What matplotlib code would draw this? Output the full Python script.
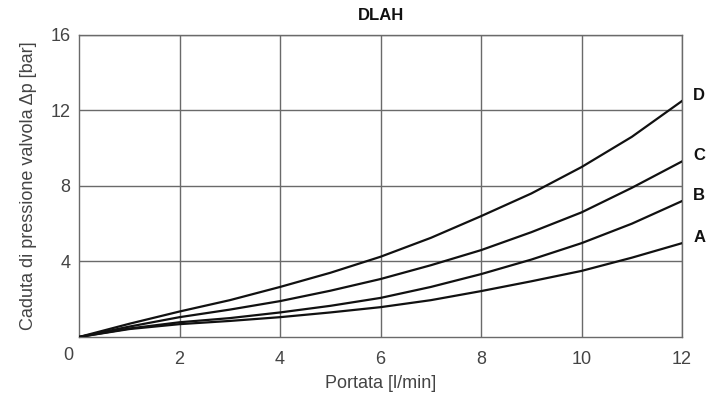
import numpy as np
import matplotlib.pyplot as plt

plt.rcParams['font.family'] = ['Liberation Sans', 'DejaVu Sans']

# flow rate [l/min]
portata = [0, 1, 2, 3, 4, 5, 6, 7, 8, 9, 10, 11, 12]

# pressure drop [bar] per curve
curve_D = [0, 0.70, 1.35, 1.95, 2.65, 3.40, 4.25, 5.25, 6.40, 7.60, 9.00, 10.60, 12.50]
curve_C = [0, 0.55, 1.05, 1.45, 1.90, 2.45, 3.07, 3.80, 4.60, 5.55, 6.60, 7.90, 9.30]
curve_B = [0, 0.45, 0.78, 1.00, 1.30, 1.65, 2.07, 2.65, 3.33, 4.10, 4.97, 6.00, 7.20]
curve_A = [0, 0.42, 0.68, 0.85, 1.05, 1.30, 1.58, 1.95, 2.43, 2.95, 3.50, 4.20, 4.97]

curve_names = ["D", "C", "B", "A"]
x_ticks = [2, 4, 6, 8, 10, 12]
y_ticks = [4, 8, 12, 16]

fig = plt.figure(figsize=(7.12, 3.96), dpi=100)
ax = fig.add_axes([0.111, 0.149, 0.847, 0.763])

grid_col = "#6a6a6a"
txt_col = "#444444"
for xv in x_ticks:
    ax.axvline(xv, color=grid_col, lw=1.0, zorder=1)
for yv in y_ticks:
    ax.axhline(yv, color=grid_col, lw=1.0, zorder=1)

for name, ys in zip(curve_names, [curve_D, curve_C, curve_B, curve_A]):
    ax.plot(portata, ys, color="#111111", lw=1.6, zorder=3)
    ax.annotate(name, (portata[-1], ys[-1]), xytext=(8, 4), textcoords="offset points",
                fontsize=12, fontweight="bold", color="#111111", va="center", ha="left",
                annotation_clip=False)

ax.set_xlim(0, 12)
ax.set_ylim(0, 16)
ax.set_xticks(x_ticks)
ax.set_yticks(y_ticks)
ax.tick_params(length=0, labelsize=13, labelcolor=txt_col)
ax.tick_params(axis="x", pad=10)
ax.tick_params(axis="y", pad=6)
for sp in ax.spines.values():
    sp.set_color(grid_col)
    sp.set_linewidth(1.0)

ax.text(-0.018, -0.06, "0", transform=ax.transAxes, ha="center", va="center",
        fontsize=13, color=txt_col)

ax.set_xlabel("Portata [l/min]", fontsize=13, color=txt_col, labelpad=5)
ax.set_ylabel("Caduta di pressione valvola Δp [bar]", fontsize=13, color=txt_col, labelpad=10)
ax.set_title("DLAH", fontsize=12, fontweight="bold", color="#111111", pad=11)

fig.savefig("out.png", dpi=100)
